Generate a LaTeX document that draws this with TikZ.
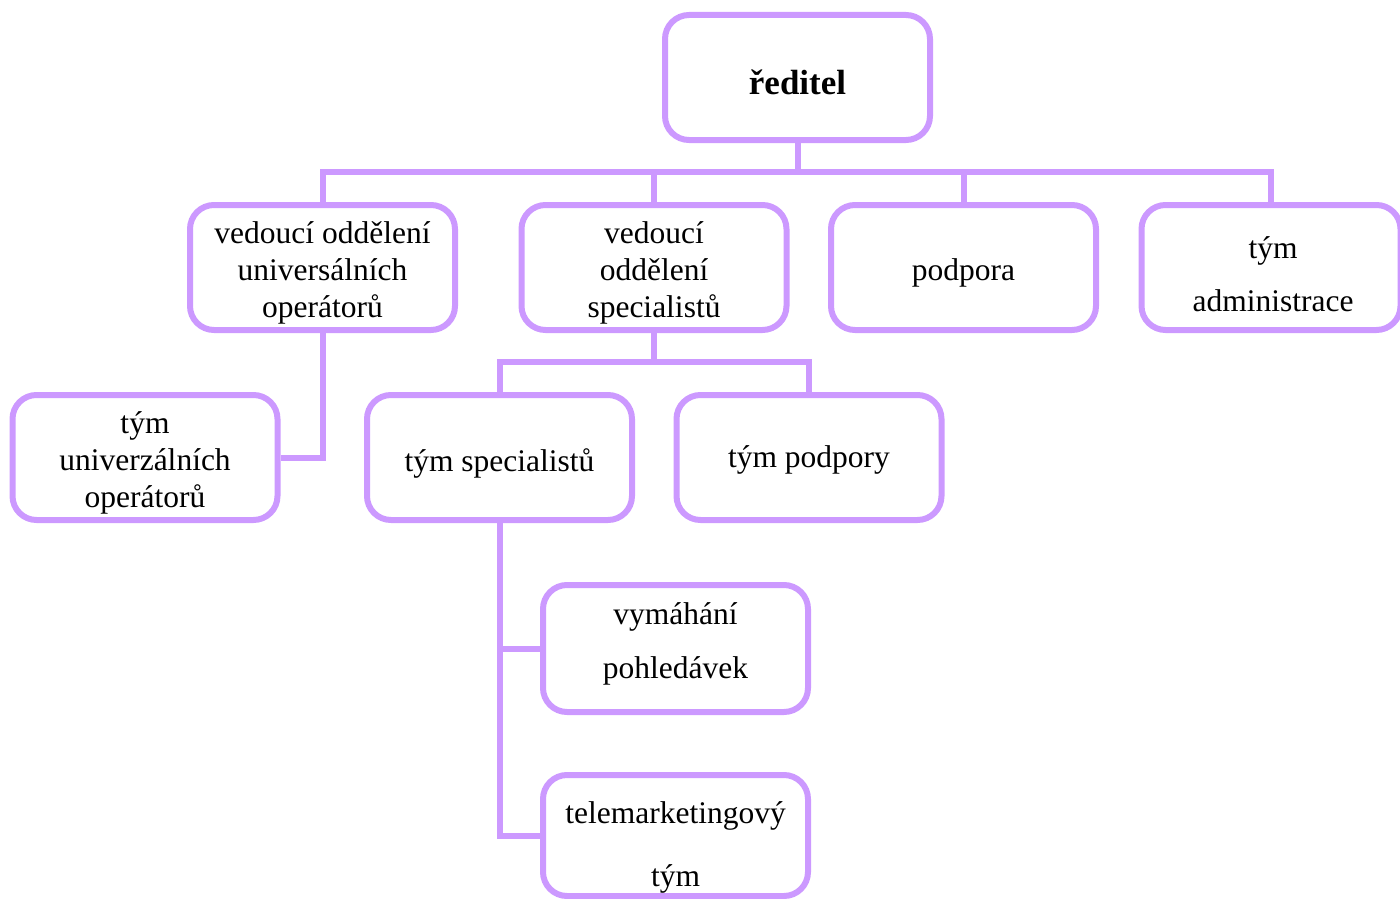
\documentclass[tikz,border=0pt]{standalone}
\usepackage{fontspec}
\setmainfont{Liberation Serif}
\usetikzlibrary{calc}
\definecolor{lilac}{HTML}{CC99FF}
\begin{document}
\begin{tikzpicture}[x=1pt,y=-1pt,
  unit/.style={draw=lilac,line width=6pt,rounded corners=24pt,fill=white,
    minimum width=265pt,minimum height=125pt,inner sep=0pt},
  caption/.style={inner sep=0pt,align=center,
    font=\fontsize{31.5}{37}\selectfont},
  link/.style={draw=lilac,line width=6pt}]
\useasboundingbox (0,0) rectangle (1400,899);
\clip (0,0) rectangle (1400,899);

% boxes
\node[unit] (dir) at (797.5,77.5) {};
\node[unit] (uni) at (322.5,267.5) {};
\node[unit] (spec) at (654,267.5) {};
\node[unit] (podp) at (963.5,267.5) {};
\node[unit,minimum width=259pt] (adm) at (1271,267.5) {};
\node[unit] (tuni) at (145,457.5) {};
\node[unit] (tspec) at (499.5,457.5) {};
\node[unit] (tpodp) at (809,457.5) {};
\node[unit,minimum height=127pt] (vym) at (675.5,648.5) {};
\node[unit,minimum height=121pt] (tele) at (675.5,835.5) {};

% captions
\node[caption,font=\fontsize{35}{40}\selectfont\bfseries] (dirT) at ($(dir)+(0,5)$) {ředitel};
\node[caption] (uniT) at ($(uni)+(0,5)$) {vedoucí oddělení\\universálních\\operátorů};
\node[caption] (specT) at ($(spec)+(0,5)$) {vedoucí\\oddělení\\specialistů};
\node[caption] (podpT) at ($(podp)+(0,5)$) {podpora};
\node[caption] (admT) at ($(adm)+(2,7)$) {tým\\[16pt]administrace};
\node[caption] (tuniT) at ($(tuni)+(0,5)$) {tým\\univerzálních\\operátorů};
\node[caption] (tspecT) at ($(tspec)+(0,6)$) {tým specialistů};
\node[caption] (tpodpT) at ($(tpodp)+(0,2)$) {tým podpory};
\node[caption] (vymT) at ($(vym)+(0,-5)$) {vymáhání\\[17pt]pohledávek};
\node[caption] (teleT) at ($(tele)+(0,12)$) {telemarketingový\\[26pt]tým};

% connectors
\coordinate (bus1) at (797.5,172);
\coordinate (bus2) at (654,362);
\draw[link] (dir.south) -- (bus1);
\draw[link] (uni.north) |- (bus1) -| (adm.north);
\draw[link] (spec.north) -- (spec.north |- bus1);
\draw[link] (podp.north) -- (podp.north |- bus1);
\draw[link] (uni.south) |- (tuni.east);
\draw[link] (spec.south) -- (bus2);
\draw[link] (tspec.north) |- (bus2) -| (tpodp.north);
\draw[link] (tspec.south) |- (vym.west);
\draw[link] (tspec.south) |- (tele.west);
\end{tikzpicture}
\end{document}
